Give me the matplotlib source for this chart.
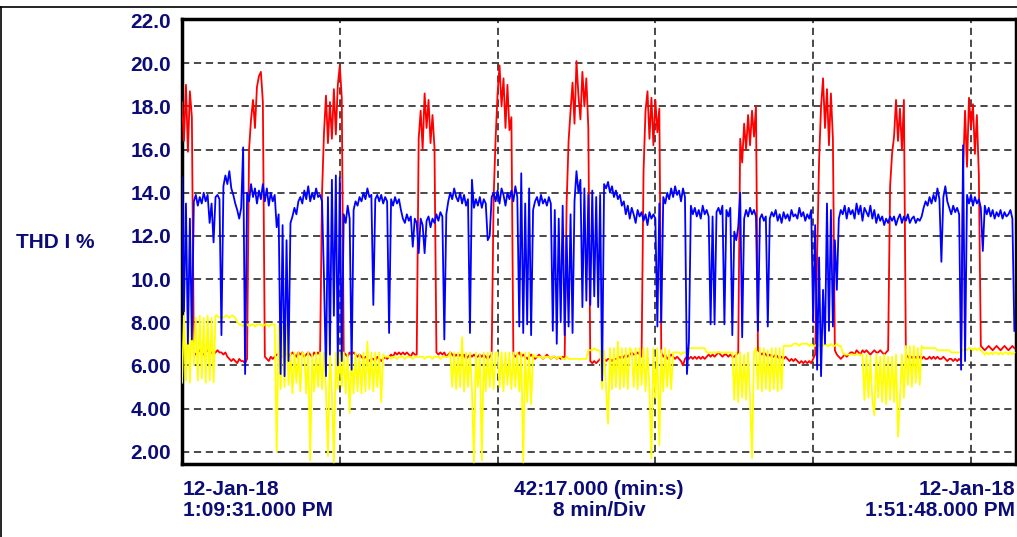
import numpy as np
import matplotlib
matplotlib.use("Agg")
import matplotlib.pyplot as plt
from matplotlib.lines import Line2D

# ------------------ DATA ------------------
SAMPLE_MIN = 0.1            # one reading every 6 s
SPAN_MIN = 42 + 17 / 60     # 42:17.000 (min:s)
DIV_MIN = 8                 # 8 min/Div

Y_TICKS = [22, 20, 18, 16, 14, 12, 10, 8, 6, 4, 2]
Y_LABELS = ["22.0", "20.0", "18.0", "16.0", "14.0", "12.0", "10.0",
            "8.00", "6.00", "4.00", "2.00"]
Y_TITLE = "THD I %"
START_LABEL = "12-Jan-18\n1:09:31.000 PM"
SPAN_LABEL = "42:17.000 (min:s)\n8 min/Div"
END_LABEL = "12-Jan-18\n1:51:48.000 PM"

red = [
    18.2, 16.4, 19.0, 15.9, 18.7, 17.5, 6.6, 6.5, 6.6, 6.7, 6.6, 6.5, 6.6, 6.7, 6.6, 6.6, 6.5, 6.6, 6.7, 6.6,
    6.6, 6.5, 6.6, 6.4, 6.3, 6.2, 6.3, 6.2, 6.1, 6.3, 6.2, 6.2, 6.1, 6.3, 16.0, 17.4, 18.3, 17.0, 18.9, 19.4,
    19.6, 18.2, 6.4, 6.3, 6.2, 6.4, 6.3, 6.4, 6.5, 6.5, 6.6, 6.4, 6.5, 6.6, 6.4, 6.5, 6.6, 6.5, 6.4, 6.6,
    6.5, 6.6, 6.4, 6.5, 6.6, 6.5, 6.4, 6.6, 6.5, 6.6, 6.5, 14.0, 16.8, 18.5, 16.3, 18.2, 16.5, 18.8, 16.7, 19.0,
    19.9, 18.4, 6.6, 6.5, 6.4, 6.6, 6.5, 6.6, 6.5, 6.4, 6.5, 6.4, 6.3, 6.4, 6.3, 6.2, 6.3, 6.3, 6.2, 6.4,
    6.3, 6.2, 6.3, 6.4, 6.3, 6.4, 6.5, 6.4, 6.6, 6.5, 6.6, 6.5, 6.6, 6.5, 6.6, 6.5, 6.4, 6.6, 6.5, 6.5,
    16.5, 17.8, 16.0, 18.6, 17.0, 18.3, 16.3, 17.6, 16.1, 6.6, 6.5, 6.6, 6.5, 6.6, 6.4, 6.5, 6.6, 6.5, 6.4, 6.5,
    6.4, 6.5, 6.4, 6.5, 6.3, 6.4, 6.5, 6.4, 6.5, 6.4, 6.4, 6.5, 6.4, 6.5, 6.4, 6.3, 6.4, 6.5, 13.8, 16.5,
    18.6, 19.9, 18.0, 19.3, 17.0, 19.0, 16.9, 17.5, 6.5, 6.4, 6.5, 6.6, 6.4, 6.5, 6.4, 6.3, 6.4, 6.5, 6.4, 6.3,
    6.4, 6.5, 6.4, 6.3, 6.4, 6.5, 6.4, 6.3, 6.4, 6.4, 6.3, 6.4, 6.3, 6.4, 6.3, 13.5, 16.4, 17.8, 19.1, 17.2,
    20.1, 18.5, 17.4, 19.6, 18.0, 19.3, 17.0, 6.2, 6.1, 6.2, 6.1, 6.2, 6.3, 6.2, 6.3, 6.2, 6.3, 6.3, 6.2, 6.3,
    6.3, 6.3, 6.4, 6.3, 6.4, 6.5, 6.4, 6.5, 6.6, 6.5, 6.5, 6.6, 6.5, 6.4, 15.0, 17.8, 18.7, 16.5, 18.4, 16.2,
    18.3, 16.8, 17.9, 6.6, 6.4, 6.5, 6.3, 6.4, 6.5, 6.4, 6.3, 6.4, 6.3, 6.2, 6.0, 6.3, 6.4, 6.3, 6.4, 6.3,
    6.4, 6.3, 6.4, 6.3, 6.4, 6.3, 6.4, 6.5, 6.4, 6.5, 6.4, 6.5, 6.6, 6.5, 6.4, 6.5, 6.5, 6.4, 6.5, 6.4,
    6.4, 6.5, 6.6, 16.5, 15.4, 17.2, 16.0, 17.6, 16.2, 17.8, 16.6, 18.0, 6.7, 6.6, 6.5, 6.6, 6.5, 6.4, 6.5, 6.4,
    6.4, 6.5, 6.4, 6.3, 6.4, 6.3, 6.4, 6.3, 6.2, 6.3, 6.2, 6.3, 6.2, 6.1, 6.2, 6.1, 6.2, 6.1, 6.2, 6.1,
    6.3, 6.5, 11.0, 15.5, 18.0, 19.3, 17.0, 18.8, 16.2, 18.6, 16.5, 6.7, 6.5, 6.4, 6.3, 6.4, 6.5, 6.4, 6.5, 6.6,
    6.6, 6.5, 6.7, 6.6, 6.5, 6.7, 6.6, 6.7, 6.6, 6.5, 6.6, 6.7, 6.6, 6.6, 6.7, 6.6, 6.5, 6.6, 6.7, 14.3,
    15.8, 16.6, 18.3, 16.4, 17.9, 16.0, 18.3, 6.5, 6.4, 6.3, 6.4, 6.3, 6.4, 6.3, 6.4, 6.3, 6.4, 6.3, 6.3, 6.4,
    6.3, 6.4, 6.3, 6.4, 6.3, 6.3, 6.4, 6.3, 6.2, 6.3, 6.3, 6.2, 6.3, 6.2, 6.3, 6.2, 15.0, 17.8, 15.2, 18.4,
    17.0, 18.1, 15.8, 17.6, 14.8, 6.9, 6.8, 6.7, 6.8, 6.9, 6.8, 6.7, 6.8, 6.9, 6.8, 6.7, 6.8, 6.9, 6.8, 6.7,
    6.8, 6.9, 6.8,
]

blue = [
    14.7, 8.5, 13.5, 7.0, 12.8, 7.2, 13.6, 13.9, 13.4, 13.8, 13.5, 14.0, 13.6, 13.9, 12.6, 13.5, 11.7, 13.8, 13.9, 13.7,
    7.4, 14.3, 14.8, 14.4, 15.0, 14.2, 13.9, 13.5, 13.2, 12.8, 13.3, 16.1, 5.6, 14.0, 13.6, 14.4, 13.8, 14.2, 13.5, 14.1,
    13.7, 14.4, 13.6, 14.2, 13.4, 14.0, 13.6, 13.9, 12.4, 13.0, 5.6, 12.5, 5.5, 11.8, 6.2, 12.6, 12.9, 13.3, 13.0, 13.6,
    13.8, 13.5, 14.1, 13.7, 14.3, 13.6, 14.0, 13.7, 14.2, 13.8, 13.9, 13.6, 10.0, 5.5, 13.8, 6.5, 14.6, 8.3, 14.8, 6.0,
    14.7, 6.2, 13.0, 12.6, 13.4, 12.8, 5.8, 13.2, 13.6, 13.4, 13.8, 13.6, 14.0, 13.7, 14.2, 13.8, 13.9, 8.8, 13.7, 13.9,
    13.6, 13.9, 13.5, 13.8, 13.6, 7.5, 13.7, 13.4, 13.8, 13.5, 13.7, 13.2, 12.8, 12.6, 13.0, 12.7, 12.9, 11.5, 12.8, 12.6,
    11.2, 12.8, 12.5, 11.2, 12.7, 12.9, 12.4, 12.8, 12.6, 13.0, 12.7, 13.1, 12.9, 7.2, 13.0, 13.6, 14.0, 13.7, 14.2, 13.8,
    13.6, 14.0, 13.5, 13.9, 13.4, 13.7, 7.5, 14.6, 13.3, 13.7, 13.4, 13.8, 13.3, 13.7, 13.5, 11.8, 12.0, 13.8, 14.0, 13.6,
    14.1, 13.5, 14.2, 13.9, 13.4, 14.0, 13.7, 14.1, 13.6, 14.3, 13.8, 7.8, 14.9, 7.5, 13.5, 7.9, 14.2, 7.4, 13.2, 13.6,
    13.8, 13.4, 13.9, 13.5, 13.7, 13.4, 13.8, 13.5, 7.6, 13.2, 7.0, 12.8, 8.0, 13.4, 7.4, 12.0, 7.8, 13.0, 7.5, 13.6,
    15.0, 14.0, 14.6, 8.7, 14.2, 9.0, 13.9, 8.8, 14.1, 9.2, 13.8, 8.7, 13.9, 5.3, 14.4, 14.2, 14.5, 14.0, 14.3, 13.8,
    14.1, 13.7, 13.9, 13.4, 13.6, 13.0, 13.4, 12.8, 13.3, 13.0, 12.6, 13.2, 12.9, 13.1, 12.7, 13.0, 12.5, 13.1, 12.8, 13.0,
    12.8, 7.8, 13.5, 8.0, 13.8, 13.5, 14.0, 13.7, 14.2, 13.8, 14.3, 13.9, 14.1, 13.6, 14.2, 13.8, 5.6, 7.1, 13.4, 13.0,
    13.3, 12.9, 13.2, 12.8, 13.4, 13.0, 13.2, 12.9, 7.9, 12.9, 7.9, 13.1, 13.3, 13.0, 13.4, 7.9, 13.2, 12.9, 13.3, 7.4,
    12.2, 11.8, 12.4, 14.0, 7.3, 12.8, 13.2, 12.9, 13.3, 13.0, 13.2, 12.9, 7.6, 12.8, 13.0, 12.7, 12.9, 7.8, 12.8, 13.1,
    12.9, 13.2, 12.7, 13.0, 12.6, 13.1, 12.8, 13.0, 12.7, 13.2, 12.9, 13.0, 12.8, 13.3, 12.9, 13.1, 12.7, 13.0, 12.8, 13.2,
    8.0, 12.5, 5.8, 11.0, 5.5, 9.5, 7.0, 13.5, 7.6, 13.2, 7.8, 11.8, 9.5, 12.8, 13.2, 13.0, 13.4, 12.8, 13.3, 13.0,
    13.2, 12.8, 13.5, 13.0, 13.4, 12.7, 13.3, 13.1, 12.9, 13.4, 12.8, 13.2, 12.6, 13.0, 12.7, 12.9, 12.5, 12.8, 12.6, 12.9,
    12.7, 12.9, 12.5, 12.8, 13.0, 12.6, 12.9, 12.7, 13.0, 12.6, 12.8, 12.9, 12.6, 12.8, 12.7, 12.9, 13.3, 13.6, 13.4, 13.8,
    13.5, 13.9, 13.6, 14.2, 13.7, 10.8, 13.8, 14.3, 13.6, 13.3, 13.0, 13.4, 13.1, 13.3, 13.0, 5.8, 16.2, 6.2, 13.9, 13.5,
    13.9, 13.4, 13.8, 13.5, 13.7, 13.3, 11.3, 13.4, 13.0, 13.3, 12.9, 13.2, 12.8, 13.1, 12.9, 13.2, 12.8, 13.1, 12.9, 13.0,
    13.2, 12.8, 7.6,
]

yellow = [
    5.2, 8.3, 5.3, 8.2, 5.2, 8.3, 6.0, 8.2, 5.3, 8.3, 5.4, 8.2, 5.2, 8.3, 5.3, 8.2, 5.2, 8.3, 8.3, 8.2,
    8.3, 8.2, 8.3, 8.3, 8.2, 8.3, 8.3, 8.2, 8.0, 7.9, 7.9, 7.8, 7.9, 7.9, 7.8, 7.9, 7.9, 7.8, 7.9, 7.9,
    7.9, 7.8, 7.9, 7.9, 7.8, 7.9, 7.9, 7.9, 2.0, 7.9, 4.9, 7.8, 5.0, 7.9, 5.1, 6.6, 4.7, 6.6, 5.2, 6.6,
    4.8, 6.6, 6.5, 4.7, 6.6, 1.6, 6.5, 4.8, 6.6, 5.0, 6.6, 4.9, 6.6, 4.8, 1.8, 6.6, 4.7, 1.5, 6.6, 4.9,
    6.6, 5.0, 6.6, 4.7, 6.5, 3.8, 6.6, 4.7, 6.6, 4.8, 6.5, 4.7, 6.6, 4.8, 7.1, 4.9, 6.6, 4.8, 6.6, 5.0,
    6.6, 4.3, 6.5, 6.4, 6.4, 6.4, 6.3, 6.4, 6.4, 6.3, 6.4, 6.4, 6.4, 6.3, 6.4, 6.4, 6.4, 6.3, 6.4, 6.4,
    6.4, 6.4, 6.4, 6.3, 6.4, 6.4, 6.4, 6.3, 6.4, 6.4, 6.4, 6.3, 6.4, 6.4, 6.4, 6.4, 6.6, 5.0, 6.6, 4.9,
    6.6, 5.0, 7.3, 4.8, 6.6, 5.0, 6.6, 4.9, 1.5, 6.6, 5.0, 6.5, 1.6, 6.6, 4.8, 6.6, 5.0, 6.6, 4.9, 6.6,
    6.6, 5.0, 6.6, 4.8, 6.6, 5.1, 6.6, 4.9, 6.6, 5.0, 6.6, 4.8, 6.6, 1.5, 6.6, 4.3, 6.6, 4.2, 6.5, 6.4,
    6.4, 6.4, 6.4, 6.3, 6.4, 6.4, 6.4, 6.3, 6.4, 6.4, 6.3, 6.4, 6.4, 6.3, 6.3, 6.4, 6.3, 6.3, 6.3, 6.3,
    6.3, 6.3, 6.3, 6.3, 6.3, 6.3, 6.7, 6.7, 6.7, 6.8, 6.7, 6.7, 6.7, 4.9, 6.7, 5.0, 3.3, 6.8, 4.9, 6.8,
    5.0, 7.1, 4.9, 6.8, 5.0, 6.8, 4.9, 6.8, 6.7, 5.0, 6.8, 4.9, 6.8, 5.1, 6.8, 4.8, 6.8, 4.9, 1.7, 6.8,
    4.5, 6.8, 2.3, 6.7, 4.8, 6.8, 5.0, 6.7, 4.9, 6.6, 6.6, 6.6, 6.6, 6.5, 6.6, 6.6, 6.6, 6.8, 6.8, 6.8,
    6.8, 6.8, 6.8, 6.8, 6.8, 6.8, 6.6, 6.6, 6.6, 6.6, 6.6, 6.6, 6.6, 6.6, 6.6, 6.6, 6.6, 6.6, 6.6, 6.6,
    4.4, 6.6, 4.3, 6.6, 4.5, 6.5, 4.4, 6.6, 4.5, 1.7, 6.6, 6.8, 4.9, 6.8, 4.8, 6.8, 4.9, 6.7, 4.8, 6.8,
    4.9, 6.8, 4.8, 6.8, 4.9, 6.9, 6.9, 6.9, 6.9, 6.9, 7.0, 7.0, 7.0, 6.9, 7.0, 7.0, 7.0, 7.0, 6.9, 7.0,
    6.9, 6.9, 7.0, 6.9, 7.0, 6.9, 7.0, 6.9, 6.9, 7.0, 6.9, 6.9, 7.0, 6.9, 6.9, 6.6, 6.5, 6.5, 6.5, 6.5,
    6.5, 6.5, 6.5, 6.5, 6.5, 6.5, 4.4, 6.5, 4.5, 6.4, 4.4, 3.7, 6.5, 4.5, 6.4, 4.3, 6.5, 4.2, 6.4, 4.4,
    6.4, 4.3, 6.5, 2.7, 4.4, 6.5, 4.5, 6.9, 5.1, 6.9, 5.0, 6.9, 5.2, 6.8, 5.1, 6.9, 6.8, 6.8, 6.8, 6.8,
    6.8, 6.8, 6.8, 6.7, 6.7, 6.7, 6.7, 6.7, 6.7, 6.7, 6.6, 6.6, 6.6, 6.6, 6.6, 6.6, 6.7, 6.8, 6.7, 6.8,
    6.8, 6.7, 6.8, 6.7, 6.8, 6.7, 6.6, 6.5, 6.6, 6.5, 6.6, 6.5, 6.6, 6.6, 6.5, 6.6, 6.5, 6.6, 6.6, 6.5,
    6.6, 6.5, 6.6,
]

t = np.arange(len(red)) * SAMPLE_MIN

# ------------------ STYLE ------------------
plt.rcParams["font.family"] = ["Liberation Sans", "DejaVu Sans"]
plt.rcParams["font.weight"] = "bold"
TEXT_COLOR = "#0c0c78"
W, H = 1017, 537

fig = plt.figure(figsize=(W / 100, H / 100), dpi=100)
ax = fig.add_axes([182 / W, 73 / H, 834 / W, 445 / H])

ax.plot(t, red, color="#ff0000", lw=1.3, zorder=3)
ax.plot(t, yellow, color="#ffff00", lw=1.3, zorder=4)
ax.plot(t, blue, color="#0000ff", lw=1.3, zorder=5)

ax.set_xlim(0, SPAN_MIN)
ax.set_ylim(1.43, 22.05)

ax.set_xticks(np.arange(DIV_MIN, SPAN_MIN, DIV_MIN))
ax.set_xticklabels([])
ax.set_yticks(Y_TICKS)
ax.set_yticklabels(Y_LABELS, fontsize=15, fontweight="bold", color=TEXT_COLOR)
ax.tick_params(axis="both", length=0, pad=8)

ax.grid(True, color="#3a3a3a", linestyle=(0, (4, 2.6)), lw=1.3)
ax.set_axisbelow(True)

for s in ax.spines.values():
    s.set_linewidth(2.5)
    s.set_color("black")

# ------------------ TEXT ------------------
fig.text(55 / W, 1 - 242 / H, Y_TITLE, ha="center", va="center",
         fontsize=15, fontweight="bold", color=TEXT_COLOR)
fig.text(183 / W, 1 - 480 / H, START_LABEL, ha="left", va="top",
         fontsize=15, fontweight="bold", color=TEXT_COLOR, linespacing=1.15)
fig.text(599 / W, 1 - 480 / H, SPAN_LABEL, ha="center", va="top",
         fontsize=15, fontweight="bold", color=TEXT_COLOR, linespacing=1.15,
         multialignment="center")
fig.text(1015 / W, 1 - 480 / H, END_LABEL, ha="right", va="top",
         fontsize=15, fontweight="bold", color=TEXT_COLOR, linespacing=1.15,
         multialignment="right")

# thin outer frame of the report panel
top_y = 1 - 6.5 / H
fig.add_artist(Line2D([0, 1], [top_y, top_y], color="black", lw=1.2))
fig.add_artist(Line2D([1 / W, 1 / W], [0, top_y], color="black", lw=1.2))

fig.savefig("out.png", dpi=100)
plt.close(fig)
